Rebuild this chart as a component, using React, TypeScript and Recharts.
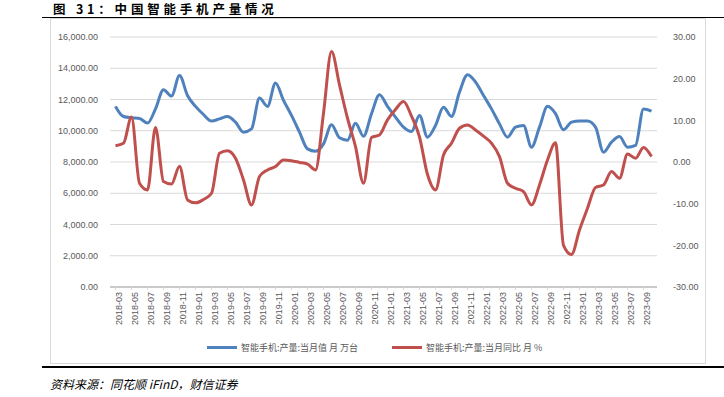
import React from 'react';
import { LineChart, Line, XAxis, YAxis, CartesianGrid, Legend } from 'recharts';

const months = [
  '2018-03','2018-04','2018-05','2018-06','2018-07','2018-08','2018-09','2018-10','2018-11','2018-12',
  '2019-01','2019-02','2019-03','2019-04','2019-05','2019-06','2019-07','2019-08','2019-09','2019-10','2019-11','2019-12',
  '2020-01','2020-02','2020-03','2020-04','2020-05','2020-06','2020-07','2020-08','2020-09','2020-10','2020-11','2020-12',
  '2021-01','2021-02','2021-03','2021-04','2021-05','2021-06','2021-07','2021-08','2021-09','2021-10','2021-11','2021-12',
  '2022-01','2022-02','2022-03','2022-04','2022-05','2022-06','2022-07','2022-08','2022-09','2022-10','2022-11','2022-12',
  '2023-01','2023-02','2023-03','2023-04','2023-05','2023-06','2023-07','2023-08','2023-09','2023-10',
];

const output = [
  11560, 10910, 10830, 10790, 10490, 11400, 12620, 12220, 13540, 12260,
  11560, 11040, 10620, 10760, 10910, 10550, 9910, 10120, 12090, 11560, 13050, 11940,
  10980, 9910, 8840, 8690, 9160, 10380, 9550, 9400, 10480, 9650, 11090, 12300,
  11560, 10870, 10230, 9950, 10980, 9590, 10340, 11510, 10910, 12470, 13580, 13120,
  12260, 11400, 10440, 9590, 10230, 10340, 8950, 10230, 11560, 11090, 10060, 10550,
  10620, 10620, 10230, 8630, 9270, 9630, 8950, 9060, 11400, 11260,
];

const yoy = [
  3.9, 4.5, 10.8, -5.1, -6.7, 8.3, -4.7, -5.3, -1.0, -9.1,
  -9.8, -9.0, -7.5, 2.1, 2.7, 0.9, -4.3, -10.3, -3.5, -1.9, -1.1, 0.5,
  0.3, -0.1, -0.5, -1.9, 11.7, 26.5, 18.5, 10.5, 3.7, -5.1, 5.9, 6.5,
  10.1, 12.6, 14.5, 11.0, 6.0, -3.0, -6.7, 1.7, 4.5, 8.1, 8.9, 7.7,
  6.2, 4.5, 1.3, -5.1, -6.3, -7.1, -10.3, -5.5, 0.5, 4.6, -20.0, -22.2,
  -16.3, -11.1, -6.1, -5.5, -2.3, -3.9, 1.9, 0.9, 3.5, 1.3,
];

const leftTicks = [0, 2000, 4000, 6000, 8000, 10000, 12000, 14000, 16000];
const rightTicks = [-30, -20, -10, 0, 10, 20, 30];

const seriesNames = ['智能手机:产量:当月值 月 万台', '智能手机:产量:当月同比 月 %'];
const seriesColors = ['#4F81BD', '#C0504D'];

const data = months.map((m, i) => ({ month: m, output: output[i], yoy: yoy[i] }));

const fmtLeft = (v: number) =>
  v.toLocaleString('en-US', { minimumFractionDigits: 2, maximumFractionDigits: 2 });
const fmtRight = (v: number) => v.toFixed(2);

const tickFont = { fontSize: 9, fill: '#595959', fontFamily: 'Liberation Sans, Arial, sans-serif' };

const LegendContent = () => (
  <div style={{ position: 'relative', width: 724, height: 16, fontFamily: '"Noto Sans CJK SC", sans-serif', fontSize: 9, color: '#595959' }}>
    {[0, 1].map((k) => (
      <div key={k} style={{ position: 'absolute', left: k === 0 ? 207 : 392, top: 0, height: 16, display: 'flex', alignItems: 'center', whiteSpace: 'nowrap' }}>
        <span style={{ display: 'inline-block', width: 30, height: 3, background: seriesColors[k], marginRight: 4 }} />
        <span>{seriesNames[k]}</span>
      </div>
    ))}
  </div>
);

export default function App() {
  return (
    <div style={{ position: 'absolute', left: 0, top: 0, width: 724, height: 397, background: '#fff', overflow: 'hidden' }}>
      <div style={{ position: 'absolute', left: 53, top: 1, lineHeight: '15px', fontFamily: '"Noto Sans CJK SC", sans-serif', fontWeight: 700, fontSize: 12.5, letterSpacing: 3.8, color: '#000', whiteSpace: 'nowrap' }}>
        图 31：中国智能手机产量情况
      </div>
      <div style={{ position: 'absolute', left: 42, top: 17, width: 682, height: 1, background: '#000' }} />
      <div style={{ position: 'absolute', left: 50, top: 18, width: 654, height: 344, border: '1px solid #d9d9d9', background: '#fff' }} />
      <div style={{ position: 'absolute', left: 42, top: 366, width: 682, height: 2, background: '#000' }} />
      <div style={{ position: 'absolute', left: 50, top: 375, fontFamily: '"Noto Sans CJK SC", serif', fontStyle: 'italic', fontSize: 12, color: '#000', whiteSpace: 'nowrap' }}>
        资料来源：同花顺 iFinD，财信证券
      </div>
      <div style={{ position: 'absolute', left: 0, top: 0 }}>
        <LineChart width={724} height={397} data={data} margin={{ top: 37, right: 17, left: 50, bottom: 70 }}>
          <CartesianGrid yAxisId="left" vertical={false} stroke="#d9d9d9" />
          <XAxis
            dataKey="month"
            interval={1}
            angle={-90}
            textAnchor="end"
            height={40}
            tick={tickFont}
            tickSize={3}
            axisLine={{ stroke: '#bfbfbf', strokeWidth: 1.5 }}
            tickLine={{ stroke: '#d9d9d9' }}
            padding={{ left: 5.5, right: 5.5 }}
          />
          <YAxis
            yAxisId="left"
            width={60}
            domain={[0, 16000]}
            ticks={leftTicks}
            tickFormatter={fmtLeft}
            axisLine={false}
            tickLine={false}
            tick={tickFont}
            tickMargin={6}
          />
          <YAxis
            yAxisId="right"
            orientation="right"
            width={50}
            domain={[-30, 30]}
            ticks={rightTicks}
            tickFormatter={fmtRight}
            axisLine={false}
            tickLine={false}
            tick={tickFont}
            tickMargin={10}
          />
          <Legend layout="horizontal" verticalAlign="middle" align="center" wrapperStyle={{ top: 339, left: 0, width: 724 }} content={<LegendContent />} />
          <Line yAxisId="left" type="monotone" dataKey="output" name={seriesNames[0]} stroke={seriesColors[0]} strokeWidth={3} dot={false} isAnimationActive={false} />
          <Line yAxisId="right" type="monotone" dataKey="yoy" name={seriesNames[1]} stroke={seriesColors[1]} strokeWidth={3} dot={false} isAnimationActive={false} />
        </LineChart>
      </div>
    </div>
  );
}
